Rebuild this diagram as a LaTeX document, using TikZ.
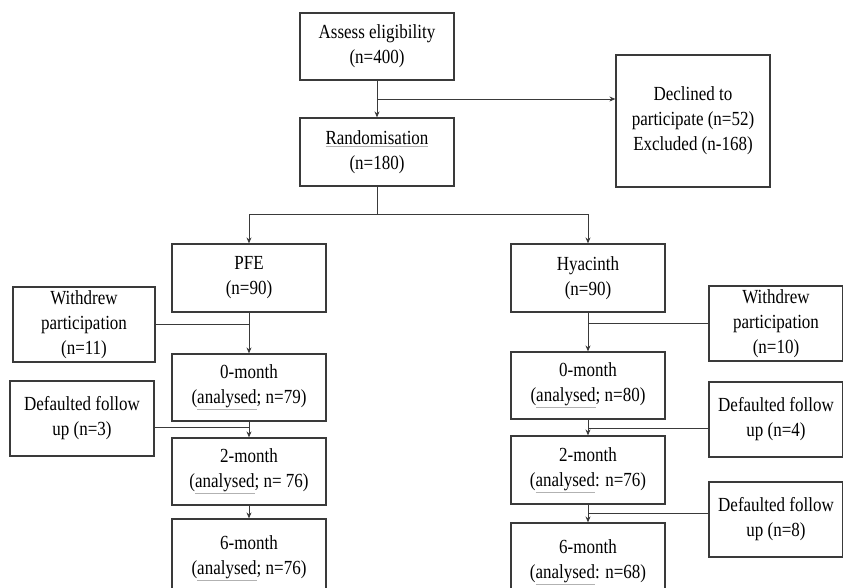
\documentclass[tikz,border=0pt]{standalone}
\usepackage{fontspec}
\setmainfont{Liberation Serif}[FakeStretch=0.85]
\usetikzlibrary{arrows.meta}
\definecolor{edge}{HTML}{3A3A3A}
\newcommand{\squig}[1]{\textcolor{gray!60}{\underline{\textcolor{black}{#1}}}}
\begin{document}
\begin{tikzpicture}[x=1pt,y=-1pt,
  box/.style={draw=edge, line width=1.2pt, fill=white, align=center, inner sep=0pt,
    font=\fontsize{20}{25}\selectfont, text=black, minimum width=154pt, minimum height=67pt},
  side/.style={box, minimum height=75pt},
  conn/.style={draw=edge, line width=0.9pt},
  arr/.style={conn, -{Stealth[length=6pt,width=5pt]}}]
\useasboundingbox (0,0) rectangle (843,587);
\begin{scope}
\clip (0,0) rectangle (843,587);
% top
\node[box] (assess) at (377,46.5) {Assess eligibility\\(n=400)};
\node[box, minimum height=68pt] (rand) at (377,152) {\squig{Randomisation}\\(n=180)};
\node[box, minimum height=132pt] (declined) at (693,121) {Declined to\\participate (n=52)\\Excluded (n-168)};
% arms
\node[box, minimum height=68pt] (pfe) at (249,278) {PFE\\(n=90)};
\node[box, minimum height=68pt] (hya) at (588,278) {Hyacinth\\(n=90)};
% left column
\node[box] (pm0) at (249,387.5) {0-month\\(\squig{analysed}; n=79)};
\node[box] (pm2) at (249,471.5) {2-month\\(\squig{analysed}; n= 76)};
\node[box, minimum height=78pt] (pm6) at (249,558) {6-month\\(\squig{analysed}; n=76)};
\node[side, minimum width=142pt] (wl) at (84,324.5) {Withdrew\\participation\\(n=11)};
\node[side, minimum width=144pt] (dl) at (82,418.5) {Defaulted follow\\up (n=3)};
% right column
\node[box] (hm0) at (588,385.5) {0-month\\(\squig{analysed}; n=80)};
\node[box, minimum height=68pt] (hm2) at (588,470) {2-month\\(\squig{analysed}: n=76)};
\node[box, minimum height=78pt] (hm6) at (588,562) {6-month\\(\squig{analysed}: n=68)};
\node[side, minimum width=134pt] (wr) at (776,323.5) {Withdrew\\participation\\(n=10)};
\node[side, minimum width=134pt] (dr1) at (776,419.5) {Defaulted follow\\up (n=4)};
\node[side, minimum width=134pt] (dr2) at (776,519.5) {Defaulted follow\\up (n=8)};
% connectors
\draw[arr] (assess.south) -- (rand.north);
\coordinate (j1) at (377,99);
\draw[arr] (j1) -- (j1 -| declined.west);
\coordinate (split) at (377,214);
\draw[conn] (rand.south) -- (split);
\draw[arr] (split) -| (pfe.north);
\draw[arr] (split) -| (hya.north);
% left flow
\draw[arr] (pfe.south) -- (pm0.north);
\draw[conn] (wl.east) -- (wl.east -| pfe.south);
\draw[arr] (pm0.south) -- (pm2.north);
\coordinate (dle) at ([yshift=-8.5pt]dl.east);
\draw[conn] (dle) -- (dle -| pm0.south);
\draw[arr] (pm2.south) -- (pm6.north);
% right flow
\draw[arr] (hya.south) -- (hm0.north);
\draw[conn] (wr.west) -- (wr.west -| hya.south);
\draw[arr] (hm0.south) -- (hm2.north);
\coordinate (dr1w) at ([yshift=-8.5pt]dr1.west);
\draw[conn] (dr1w) -- (dr1w -| hm0.south);
\draw[arr] (hm2.south) -- (hm6.north);
\coordinate (dr2w) at ([yshift=6.5pt]dr2.west);
\draw[conn] (dr2w) -- (dr2w -| hm2.south);
\end{scope}
\end{tikzpicture}
\end{document}
